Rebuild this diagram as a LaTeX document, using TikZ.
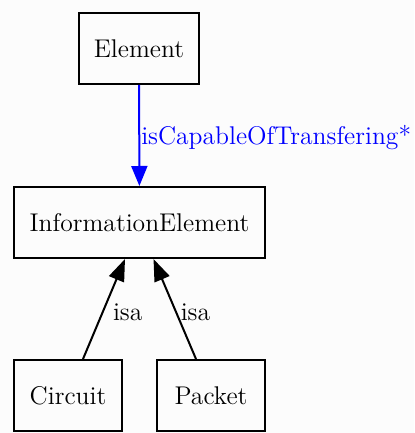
\documentclass[tikz,border=0pt]{standalone}
\usetikzlibrary{arrows.meta}

\begin{document}
\begin{tikzpicture}[x=0.5pt,y=-0.5pt,
	cls/.style={draw,line width=1pt,inner sep=0pt,minimum height=35.5pt,font=\fontsize{12.8}{15}\selectfont},
	isa/.style={line width=1pt,-{Triangle[length=11pt,width=8pt]}},
	rel/.style={blue,line width=1pt,-{Triangle[length=10pt,width=8pt]}},
	lbl/.style={font=\fontsize{12.8}{15}\selectfont,inner sep=0pt}]
	\clip (0,0) rectangle (414,433);
	\fill[white!98!gray] (0,0) rectangle (414,433);

	% classes
	\node[cls,minimum width=60pt] (element) at (139,48.5) {Element};
	\node[cls,minimum width=125.5pt] (infoelem) at (139.5,222.5) {InformationElement};
	\node[cls,minimum width=54pt] (circuit) at (68,395.5) {Circuit};
	\node[cls,minimum width=54pt] (packet) at (211,395.5) {Packet};

	% relation
	\draw[rel] (element) -- (infoelem)
		node[lbl,midway,anchor=west,xshift=0.5pt,yshift=-1pt,text=blue]{isCapableOfTransfering*};

	% subclasses
	\draw[isa] ([xshift=7.5pt]circuit.north) -- ([xshift=-7.25pt]infoelem.south)
		node[lbl,midway,anchor=west,xshift=4pt,yshift=-1.5pt]{isa};
	\draw[isa] ([xshift=-7.5pt]packet.north) -- ([xshift=7pt]infoelem.south)
		node[lbl,midway,anchor=west,xshift=2.5pt,yshift=-1.5pt]{isa};
\end{tikzpicture}
\end{document}
